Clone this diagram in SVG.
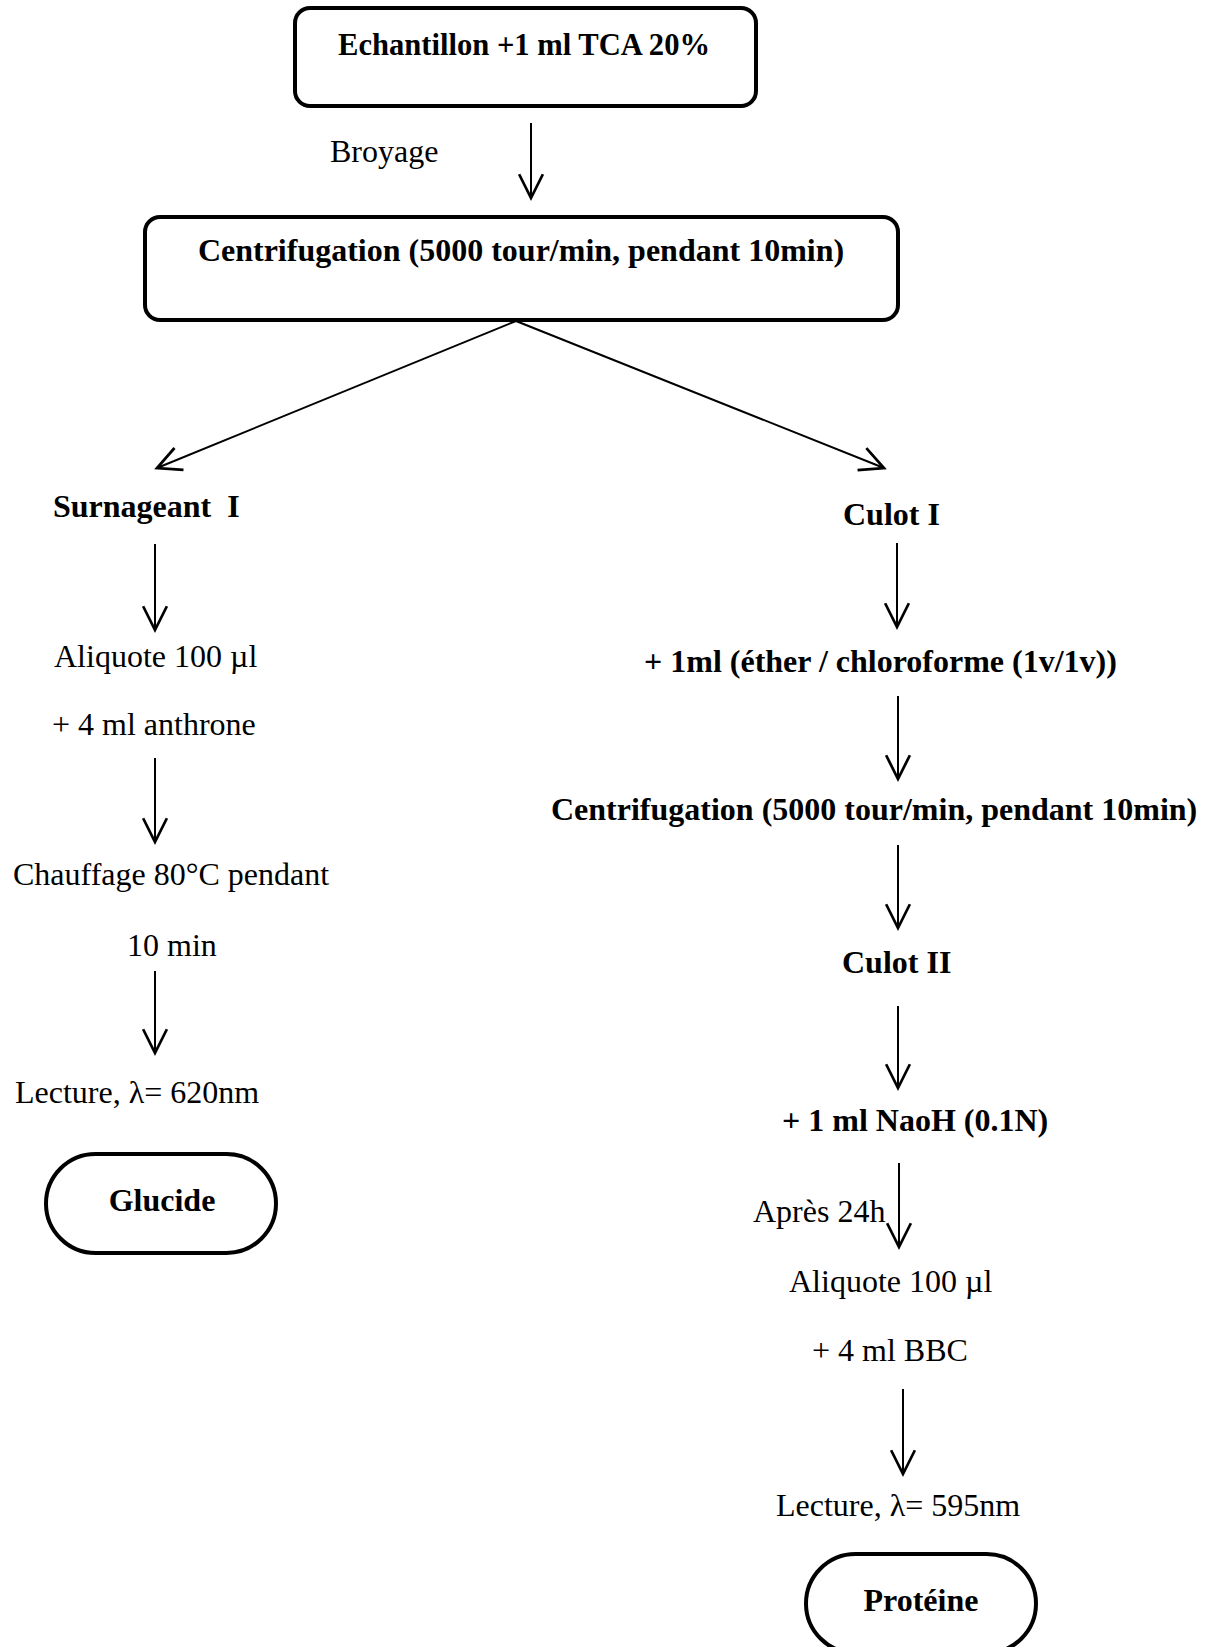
<svg xmlns="http://www.w3.org/2000/svg" width="1210" height="1647" viewBox="0 0 1210 1647">
<defs>
<marker id="arr" markerUnits="userSpaceOnUse" markerWidth="30" markerHeight="30" refX="0" refY="0" viewBox="-22 -12 24 24" orient="auto" overflow="visible">
<path d="M -19 -9.5 L 0 0 L -19 9.5" fill="none" stroke="#000" stroke-width="2.2"/>
</marker>
<style>
.box{fill:#fff;stroke:#000;stroke-width:4}
.t{font-family:"Liberation Serif","Times New Roman",serif;font-size:32px;fill:#000}
.b{font-weight:bold}
.c{text-anchor:middle}
.ln{stroke:#000;stroke-width:2;fill:none;marker-end:url(#arr)}
</style>
</defs>
<rect width="1210" height="1647" fill="#fff"/>
<g id="n-echantillon">
<rect class="box" x="295" y="8" width="461" height="98" rx="15"/>
<text class="t b c" x="524" y="55" font-size="31" textLength="372" lengthAdjust="spacingAndGlyphs">Echantillon +1 ml TCA 20%</text>
</g>
<g id="n-broyage"><text class="t" x="330" y="162">Broyage</text></g>
<g id="n-centri1">
<rect class="box" x="145" y="217" width="753" height="103" rx="15"/>
<text class="t b c" x="521" y="261">Centrifugation (5000 tour/min, pendant 10min)</text>
</g>
<g id="n-surnageant"><text class="t b" x="53" y="517" xml:space="preserve">Surnageant  I</text></g>
<g id="n-aliq1"><text class="t" x="54" y="667">Aliquote 100 µl</text></g>
<g id="n-anthrone"><text class="t" x="52" y="735">+ 4 ml anthrone</text></g>
<g id="n-chauffage"><text class="t" x="13" y="885">Chauffage 80°C pendant</text></g>
<g id="n-10min"><text class="t" x="127" y="956">10 min</text></g>
<g id="n-lecture1"><text class="t" x="15" y="1103">Lecture, λ= 620nm</text></g>
<g id="n-glucide">
<rect class="box" x="46" y="1154" width="230" height="99" rx="49.5"/>
<text class="t b c" x="162" y="1211">Glucide</text>
</g>
<g id="n-culot1"><text class="t b" x="843" y="525">Culot I</text></g>
<g id="n-ether"><text class="t b" x="644" y="672">+ 1ml (éther / chloroforme (1v/1v))</text></g>
<g id="n-centri2"><text class="t b" x="551" y="820">Centrifugation (5000 tour/min, pendant 10min)</text></g>
<g id="n-culot2"><text class="t b" x="842" y="973">Culot II</text></g>
<g id="n-naoh"><text class="t b" x="782" y="1131">+ 1 ml NaoH (0.1N)</text></g>
<g id="n-apres"><text class="t" x="753" y="1222">Après 24h</text></g>
<g id="n-aliq2"><text class="t" x="789" y="1292">Aliquote 100 µl</text></g>
<g id="n-bbc"><text class="t" x="812" y="1361">+ 4 ml BBC</text></g>
<g id="n-lecture2"><text class="t" x="776" y="1516">Lecture, λ= 595nm</text></g>
<g id="n-proteine">
<rect class="box" x="806" y="1554" width="230" height="99" rx="49.5"/>
<text class="t b c" x="921" y="1611">Protéine</text>
</g>
<g id="connectors">
<line class="ln" x1="531" y1="123" x2="531" y2="198"/>
<line class="ln" x1="516" y1="321" x2="157" y2="468"/>
<line class="ln" x1="516" y1="321" x2="884" y2="468"/>
<line class="ln" x1="155" y1="544" x2="155" y2="630"/>
<line class="ln" x1="155" y1="758" x2="155" y2="842"/>
<line class="ln" x1="155" y1="971" x2="155" y2="1053"/>
<line class="ln" x1="897" y1="543" x2="897" y2="627"/>
<line class="ln" x1="898" y1="696" x2="898" y2="779"/>
<line class="ln" x1="898" y1="845" x2="898" y2="928"/>
<line class="ln" x1="898" y1="1006" x2="898" y2="1088"/>
<line class="ln" x1="899" y1="1163" x2="899" y2="1247"/>
<line class="ln" x1="903" y1="1389" x2="903" y2="1474"/>
</g>
</svg>
